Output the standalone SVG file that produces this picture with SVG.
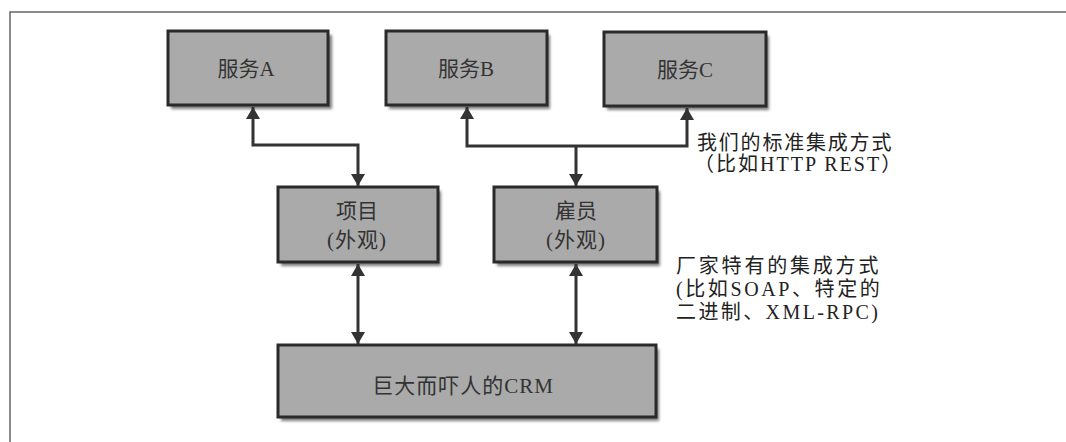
<svg xmlns="http://www.w3.org/2000/svg" width="1066" height="442" viewBox="0 0 1066 442">
<style>
.box{fill:#aaaaaa;stroke:#2a2a2a;stroke-width:3}
.shadow{fill:#444;opacity:0.7;filter:url(#blur)}
.nt{font-family:"Liberation Serif","Noto Sans CJK SC",serif;font-size:21px;fill:#333;text-anchor:middle}
.lb{font-family:"Liberation Serif","Noto Sans CJK SC",serif;font-size:20px;fill:#222}
.conn{fill:none;stroke:#333;stroke-width:3}
</style>
<defs>
<filter id="blur" x="-10%" y="-10%" width="120%" height="130%"><feGaussianBlur stdDeviation="1.5"/></filter>
<marker id="ah" viewBox="0 0 12 14" refX="12" refY="7" markerWidth="12" markerHeight="14" markerUnits="userSpaceOnUse" orient="auto-start-reverse">
<path d="M0,0 L12,7 L0,14 Z" fill="#333"/>
</marker>
</defs>
<rect width="1066" height="442" fill="#fff"/>
<g id="frame" stroke="#666" stroke-width="1.5" fill="none">
<path d="M10,442 L10,12 L1066,12"/>
</g>
<g id="serviceA">
<rect class="shadow" x="171" y="35" width="161" height="74"/>
<rect class="box" x="168" y="31" width="160" height="74"/>
<text class="nt" x="246" y="76">服务A</text>
</g>
<g id="serviceB">
<rect class="shadow" x="389" y="35" width="161" height="74"/>
<rect class="box" x="386" y="31" width="161" height="74"/>
<text class="nt" x="466" y="76">服务B</text>
</g>
<g id="serviceC">
<rect class="shadow" x="607" y="36" width="162" height="74"/>
<rect class="box" x="604" y="32" width="162" height="74"/>
<text class="nt" x="685" y="77">服务C</text>
</g>
<g id="project">
<rect class="shadow" x="281" y="191" width="160" height="75"/>
<rect class="box" x="278" y="187" width="160" height="75"/>
<text class="nt" x="357" y="218">项目</text>
<text class="nt" x="357" y="247" letter-spacing="1">(外观)</text>
</g>
<g id="employee">
<rect class="shadow" x="497" y="191" width="163" height="75"/>
<rect class="box" x="494" y="187" width="163" height="75"/>
<text class="nt" x="576" y="218">雇员</text>
<text class="nt" x="576" y="247" letter-spacing="1">(外观)</text>
</g>
<g id="crm">
<rect class="shadow" x="281" y="349" width="378" height="72"/>
<rect class="box" x="278" y="345" width="378" height="72"/>
<text class="nt" x="463" y="393" letter-spacing="1">巨大而吓人的CRM</text>
</g>
<g id="connectors">
<path class="conn" d="M358,186 L358,145 L253,145 L253,107" marker-start="url(#ah)" marker-end="url(#ah)"/>
<path class="conn" d="M467,107 L467,146 L687,146 L687,108" marker-start="url(#ah)" marker-end="url(#ah)"/>
<path class="conn" d="M576,146 L576,186" marker-end="url(#ah)"/>
<path class="conn" d="M358,264 L358,344" marker-start="url(#ah)" marker-end="url(#ah)"/>
<path class="conn" d="M576,264 L576,344" marker-start="url(#ah)" marker-end="url(#ah)"/>
</g>
<g id="labels">
<text class="lb" x="697" y="150" letter-spacing="1.8">我们的标准集成方式</text>
<text class="lb" x="694" y="171" letter-spacing="2">（比如HTTP REST）</text>
<text class="lb" x="676" y="273" letter-spacing="2.8">厂家特有的集成方式</text>
<text class="lb" x="676" y="296" letter-spacing="2.6">(比如SOAP、特定的</text>
<text class="lb" x="676" y="319" letter-spacing="2.4">二进制、XML-RPC)</text>
</g>
</svg>
